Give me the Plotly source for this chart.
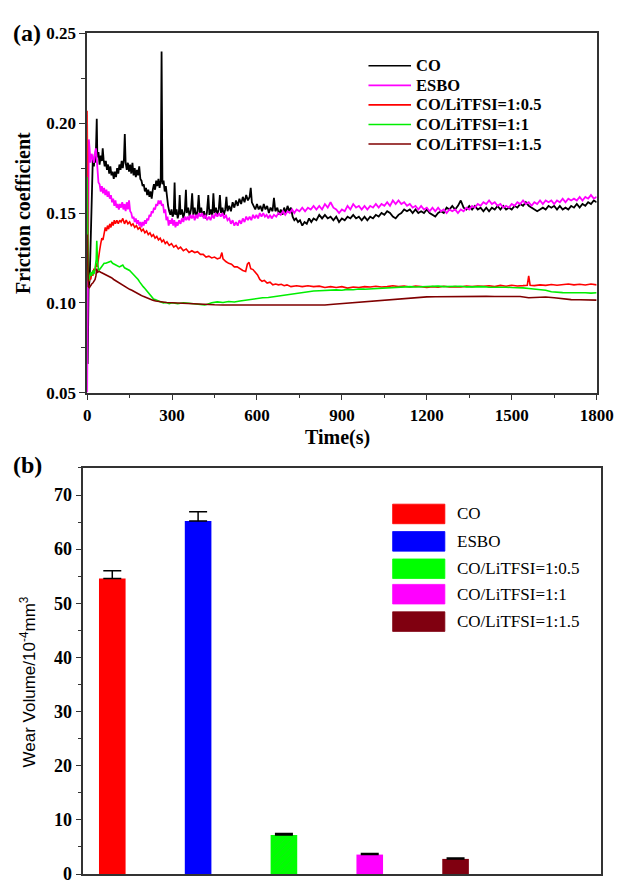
import plotly.graph_objects as go

W, H = 632, 887

# ---------------- (a) friction coefficient data ----------------
series_names = ["CO", "ESBO", "CO/LiTFSI=1:0.5", "CO/LiTFSI=1:1", "CO/LiTFSI=1:1.5"]
line_colors = ["#000000", "#ff00ff", "#ff0000", "#00ee00", "#800000"]
line_widths = [1.8, 1.8, 1.6, 1.6, 1.6]

co_t = [2,5,9,13,17,20,24,27,30,33,34,36,40,44,48,52,55,58,62,66,70,74,78,82,86,90,94,98,102,106,110,114,118,122,126,130,133,136,140,144,148,152,156,160,164,168,172,176,180,184,188,192,196,200,204,208,212,216,220,224,228,232,236,240,244,248,252,256,260,263,266,270,274,278,282,286,290,294,298,302,306,309,312,316,320,324,327,330,335,340,345,349,352,357,362,367,371,375,380,385,390,394,398,403,408,413,418,423,428,432,437,442,446,450,455,460,465,469,473,478,483,488,492,496,502,508,514,520,526,532,538,544,550,556,562,568,574,578,582,588,594,600,606,612,618,624,630,636,642,648,655,660,665,672,678,684,690,696,702,708,714,720,726,732,738,745,752,760,768,776,784,792,800,810,820,830,840,850,860,870,880,890,900,910,920,930,940,950,960,970,980,990,1000,1010,1020,1030,1040,1050,1060,1070,1080,1090,1100,1110,1120,1130,1140,1150,1160,1170,1180,1190,1200,1210,1220,1230,1240,1250,1260,1270,1280,1290,1300,1310,1320,1330,1340,1350,1360,1370,1380,1390,1400,1410,1420,1430,1440,1450,1460,1470,1480,1490,1500,1510,1520,1530,1540,1550,1560,1570,1580,1590,1600,1610,1620,1630,1640,1650,1660,1670,1680,1690,1700,1710,1720,1730,1740,1750,1760,1770,1780,1790,1800]
co_mu = [0.066,0.108,0.113,0.145,0.172,0.180,0.176,0.183,0.178,0.190,0.2025,0.181,0.184,0.177,0.182,0.179,0.186,0.180,0.176,0.179,0.174,0.177,0.172,0.176,0.171,0.173,0.169,0.173,0.170,0.175,0.172,0.177,0.174,0.179,0.175,0.180,0.194,0.178,0.174,0.178,0.173,0.177,0.172,0.178,0.171,0.175,0.170,0.174,0.171,0.176,0.169,0.168,0.165,0.166,0.162,0.164,0.160,0.163,0.159,0.162,0.158,0.163,0.166,0.163,0.168,0.165,0.169,0.164,0.168,0.240,0.166,0.168,0.162,0.165,0.157,0.154,0.151,0.149,0.152,0.148,0.150,0.167,0.149,0.152,0.147,0.150,0.160,0.149,0.152,0.147,0.151,0.163,0.150,0.153,0.148,0.152,0.161,0.149,0.153,0.148,0.151,0.160,0.150,0.153,0.148,0.151,0.147,0.150,0.160,0.149,0.152,0.148,0.161,0.150,0.153,0.149,0.152,0.160,0.150,0.153,0.149,0.152,0.159,0.151,0.154,0.151,0.156,0.153,0.157,0.154,0.158,0.155,0.159,0.156,0.160,0.157,0.159,0.164,0.156,0.154,0.152,0.155,0.152,0.154,0.151,0.155,0.152,0.154,0.150,0.153,0.151,0.1585,0.151,0.153,0.149,0.152,0.149,0.153,0.150,0.154,0.151,0.153,0.148,0.146,0.147,0.145,0.146,0.143,0.145,0.144,0.147,0.145,0.147,0.146,0.149,0.147,0.149,0.147,0.148,0.146,0.148,0.145,0.147,0.146,0.148,0.147,0.149,0.147,0.148,0.146,0.148,0.146,0.148,0.147,0.149,0.148,0.150,0.149,0.151,0.150,0.148,0.147,0.149,0.150,0.152,0.151,0.152,0.150,0.152,0.150,0.151,0.150,0.152,0.150,0.149,0.148,0.150,0.151,0.150,0.153,0.152,0.154,0.152,0.154,0.157,0.153,0.152,0.154,0.152,0.154,0.152,0.153,0.151,0.153,0.151,0.153,0.152,0.154,0.152,0.154,0.152,0.153,0.152,0.154,0.153,0.155,0.154,0.156,0.154,0.153,0.152,0.151,0.152,0.153,0.152,0.154,0.153,0.154,0.152,0.154,0.152,0.153,0.152,0.154,0.153,0.155,0.153,0.155,0.154,0.156,0.155,0.157,0.156]

esbo_t = [0,2,4,6,9,12,16,20,24,28,31,34,37,40,44,48,52,56,60,64,68,72,76,80,84,88,92,96,100,104,108,112,116,120,124,128,132,136,140,144,148,152,156,160,164,168,172,176,180,184,188,192,196,200,204,208,212,216,220,224,228,232,236,240,244,248,252,256,260,264,268,272,276,280,284,288,292,296,300,304,308,312,316,320,325,330,335,340,345,350,355,360,365,370,375,380,385,390,395,400,406,412,418,424,430,436,442,448,454,460,466,472,478,484,490,496,502,508,514,520,526,532,538,544,550,556,562,568,574,580,586,592,598,604,610,616,622,628,634,640,646,652,660,668,676,684,692,700,708,716,724,732,740,750,760,770,780,790,800,810,820,830,840,850,860,870,880,890,900,910,920,930,940,950,960,970,980,990,1000,1010,1020,1030,1040,1050,1060,1070,1080,1090,1100,1110,1120,1130,1140,1150,1160,1170,1180,1190,1200,1210,1220,1230,1240,1250,1260,1270,1280,1290,1300,1310,1320,1330,1340,1350,1360,1370,1380,1390,1400,1410,1420,1430,1440,1450,1460,1470,1480,1490,1500,1510,1520,1530,1540,1550,1560,1570,1580,1590,1600,1610,1620,1630,1640,1650,1660,1670,1680,1690,1700,1710,1720,1730,1740,1750,1760,1770,1780,1790,1800]
esbo_mu = [0.050,0.120,0.175,0.191,0.185,0.178,0.183,0.180,0.178,0.184,0.186,0.180,0.173,0.167,0.166,0.162,0.165,0.161,0.164,0.160,0.163,0.159,0.162,0.158,0.160,0.156,0.158,0.154,0.157,0.153,0.155,0.152,0.155,0.153,0.156,0.152,0.155,0.151,0.156,0.152,0.157,0.151,0.150,0.147,0.148,0.145,0.147,0.144,0.146,0.143,0.145,0.142,0.145,0.143,0.146,0.144,0.147,0.146,0.149,0.148,0.151,0.150,0.153,0.152,0.155,0.154,0.157,0.155,0.157,0.154,0.155,0.150,0.152,0.146,0.148,0.143,0.146,0.144,0.147,0.143,0.146,0.142,0.145,0.143,0.146,0.144,0.147,0.145,0.148,0.146,0.148,0.146,0.149,0.147,0.149,0.146,0.149,0.147,0.150,0.148,0.150,0.147,0.149,0.146,0.148,0.146,0.149,0.147,0.150,0.148,0.150,0.148,0.150,0.147,0.149,0.146,0.147,0.144,0.146,0.143,0.145,0.143,0.146,0.144,0.147,0.145,0.148,0.146,0.148,0.146,0.149,0.147,0.149,0.147,0.150,0.148,0.150,0.148,0.149,0.147,0.149,0.147,0.149,0.148,0.150,0.149,0.151,0.149,0.151,0.150,0.152,0.150,0.152,0.151,0.153,0.151,0.153,0.152,0.154,0.152,0.154,0.152,0.155,0.153,0.156,0.153,0.152,0.150,0.152,0.151,0.154,0.152,0.155,0.153,0.154,0.152,0.154,0.152,0.154,0.153,0.155,0.153,0.155,0.154,0.156,0.154,0.157,0.155,0.157,0.155,0.156,0.154,0.155,0.153,0.154,0.152,0.154,0.152,0.153,0.151,0.153,0.151,0.153,0.151,0.152,0.150,0.152,0.151,0.152,0.150,0.152,0.151,0.153,0.152,0.154,0.153,0.155,0.154,0.156,0.155,0.157,0.155,0.156,0.154,0.155,0.153,0.154,0.153,0.155,0.154,0.156,0.155,0.157,0.155,0.156,0.154,0.156,0.155,0.157,0.155,0.157,0.156,0.157,0.155,0.157,0.156,0.158,0.156,0.158,0.157,0.158,0.157,0.159,0.157,0.159,0.158,0.160,0.158,0.159]

r05_t = [0,2,4,7,10,13,16,20,24,28,32,36,40,44,48,52,56,60,64,68,72,76,80,84,88,92,96,100,105,110,115,120,126,132,138,144,150,156,162,168,174,180,186,192,198,204,210,216,222,228,234,240,246,252,258,264,270,276,282,290,298,306,314,322,330,340,350,360,370,380,390,400,410,420,430,440,450,460,470,476,480,490,500,510,520,530,540,550,560,566,572,578,586,594,602,610,618,626,636,646,656,666,676,686,696,706,720,740,760,780,800,820,840,860,880,900,920,940,960,980,1000,1020,1040,1060,1080,1100,1120,1140,1160,1180,1200,1220,1240,1260,1280,1300,1320,1340,1360,1380,1400,1420,1440,1460,1480,1500,1520,1540,1555,1560,1565,1580,1600,1620,1640,1660,1680,1700,1720,1740,1760,1780,1800]
r05_mu = [0.207,0.150,0.116,0.112,0.115,0.113,0.117,0.115,0.119,0.118,0.122,0.120,0.126,0.129,0.133,0.136,0.135,0.140,0.142,0.140,0.143,0.141,0.144,0.142,0.145,0.143,0.146,0.144,0.146,0.144,0.146,0.145,0.147,0.144,0.146,0.144,0.145,0.143,0.144,0.142,0.143,0.141,0.142,0.140,0.141,0.139,0.140,0.138,0.139,0.137,0.138,0.136,0.137,0.135,0.136,0.134,0.135,0.133,0.134,0.132,0.133,0.131,0.132,0.130,0.131,0.129,0.130,0.128,0.129,0.128,0.1285,0.127,0.127,0.1255,0.126,0.125,0.1255,0.1245,0.125,0.128,0.1245,0.123,0.122,0.1215,0.120,0.120,0.119,0.118,0.1175,0.1215,0.1225,0.119,0.1185,0.117,0.1155,0.113,0.112,0.1125,0.111,0.1115,0.110,0.1105,0.110,0.1103,0.1095,0.110,0.109,0.1095,0.109,0.1095,0.109,0.1093,0.1085,0.109,0.1085,0.109,0.1082,0.1088,0.1085,0.109,0.1088,0.1092,0.1088,0.109,0.1095,0.109,0.1093,0.1088,0.1093,0.109,0.1085,0.109,0.1087,0.1092,0.1088,0.109,0.1088,0.1093,0.109,0.1094,0.1092,0.1095,0.109,0.1097,0.1092,0.1098,0.1094,0.1096,0.1098,0.115,0.1098,0.1096,0.110,0.1097,0.1102,0.1098,0.110,0.1105,0.110,0.1103,0.1099,0.1105,0.110]

r10_t = [0,2,4,8,12,16,20,24,28,32,34,37,41,46,50,55,60,66,72,78,84,90,96,102,108,114,120,126,132,138,144,150,156,162,168,174,180,186,192,198,204,210,216,222,228,234,240,250,260,270,280,290,300,320,340,360,380,400,415,425,440,460,480,500,520,540,560,580,600,620,640,660,680,700,720,740,760,780,800,820,840,860,880,900,920,940,960,980,1000,1020,1040,1060,1080,1100,1120,1140,1160,1180,1200,1220,1240,1260,1280,1300,1320,1340,1360,1380,1400,1420,1440,1460,1480,1500,1520,1540,1560,1580,1600,1620,1640,1660,1680,1700,1720,1740,1760,1780,1800]
r10_mu = [0.170,0.130,0.112,0.114,0.117,0.115,0.118,0.116,0.119,0.124,0.1345,0.122,0.118,0.119,0.120,0.121,0.122,0.122,0.1225,0.123,0.1232,0.122,0.1215,0.121,0.1205,0.120,0.1205,0.121,0.1195,0.119,0.1185,0.118,0.117,0.116,0.1152,0.1145,0.113,0.1115,0.110,0.109,0.108,0.1068,0.1058,0.1045,0.103,0.1022,0.1018,0.101,0.1005,0.100,0.1002,0.0995,0.100,0.0995,0.100,0.0998,0.0995,0.0993,0.0988,0.0992,0.100,0.1005,0.1002,0.1007,0.1005,0.101,0.1015,0.102,0.1022,0.1028,0.103,0.1035,0.104,0.1042,0.1046,0.1052,0.106,0.1064,0.1066,0.1067,0.1069,0.107,0.1072,0.107,0.1075,0.1073,0.1077,0.1076,0.1078,0.108,0.1082,0.1084,0.1087,0.1088,0.1089,0.109,0.1088,0.109,0.1092,0.109,0.1093,0.109,0.1092,0.109,0.1092,0.1089,0.109,0.1088,0.109,0.1087,0.1088,0.1086,0.1087,0.1085,0.1086,0.1083,0.108,0.1078,0.1075,0.107,0.1062,0.1058,0.1057,0.1056,0.1057,0.1055,0.1056,0.1054,0.1056]

r15_t = [0,2,4,8,12,16,20,24,28,31,34,37,42,48,55,62,70,78,86,94,102,110,118,126,134,142,150,158,166,174,182,190,198,206,214,222,232,242,252,264,280,300,320,340,360,380,400,420,450,480,520,560,600,640,680,720,760,800,840,870,900,930,960,990,1020,1050,1080,1110,1140,1170,1200,1230,1260,1290,1320,1350,1380,1410,1440,1470,1500,1530,1560,1590,1620,1650,1680,1710,1740,1770,1800]
r15_mu = [0.138,0.120,0.109,0.1085,0.110,0.1105,0.111,0.112,0.113,0.115,0.119,0.117,0.1175,0.117,0.1165,0.116,0.1155,0.1148,0.114,0.113,0.1122,0.1115,0.1105,0.1098,0.109,0.1082,0.1075,0.107,0.1062,0.1055,0.105,0.1042,0.1036,0.103,0.1025,0.102,0.1015,0.101,0.1007,0.1004,0.1002,0.100,0.0998,0.0997,0.0995,0.0995,0.0993,0.099,0.0989,0.0988,0.0988,0.0987,0.0988,0.0987,0.0988,0.0987,0.0986,0.0987,0.0988,0.0992,0.0996,0.100,0.1004,0.1008,0.1012,0.1016,0.102,0.1024,0.1028,0.103,0.1033,0.1034,0.1035,0.1035,0.1034,0.1035,0.1035,0.1036,0.1035,0.1035,0.1036,0.1035,0.1028,0.1032,0.1032,0.1028,0.1022,0.1018,0.1017,0.1016,0.1015]

time_ticks = [0, 300, 600, 900, 1200, 1500, 1800]
mu_ticks = [0.05, 0.10, 0.15, 0.20, 0.25]

# ---------------- (b) wear volume data ----------------
wear_names = ["CO", "ESBO", "CO/LiTFSI=1:0.5", "CO/LiTFSI=1:1", "CO/LiTFSI=1:1.5"]
wear_values = [54.6, 65.2, 7.2, 3.6, 2.8]
wear_errors = [1.4, 1.7, 0.3, 0.2, 0.15]
wear_colors = ["#ff0000", "#0000ff", "#00ff00", "#ff00ff", "#800010"]
wear_ticks = [0, 10, 20, 30, 40, 50, 60, 70]

SERIF = "Liberation Serif"
SANS = "Liberation Sans"

def px(x):
    return x / W

def py(y):
    return 1 - y / H

fig = go.Figure()

all_t = [co_t, esbo_t, r05_t, r10_t, r15_t]
all_mu = [co_mu, esbo_mu, r05_mu, r10_mu, r15_mu]
for name, c, lw, t, m in zip(series_names, line_colors, line_widths, all_t, all_mu):
    fig.add_trace(go.Scatter(x=t, y=m, mode="lines", name=name,
                             line=dict(color=c, width=lw),
                             xaxis="x", yaxis="y", showlegend=False))

for i, (name, v, e, c) in enumerate(zip(wear_names, wear_values, wear_errors, wear_colors)):
    marker = dict(color=c, line=dict(width=0))
    if i == 2:
        marker["pattern"] = dict(shape="/", fgcolor="#30c830", bgcolor="#00ff00", size=5, solidity=0.15)
    fig.add_trace(go.Bar(x=[i], y=[v], name=name, marker=marker, width=0.31,
                         error_y=dict(type="data", array=[e], symmetric=False, arrayminus=[0],
                                      color="#000000", thickness=1.5, width=9),
                         xaxis="x2", yaxis="y2", showlegend=False))

axis_line = dict(showline=True, linecolor="#333333", linewidth=1.5, mirror=True,
                 showgrid=False, zeroline=False, ticks="outside", tickcolor="#333333",
                 tickwidth=1.3)

fig.update_layout(
    width=W, height=H,
    margin=dict(l=0, r=0, t=0, b=0),
    paper_bgcolor="white", plot_bgcolor="white",
    showlegend=False,
    xaxis=dict(domain=[px(86), px(613)], range=[0, 1800], tickvals=time_ticks,
               ticklen=6, minor=dict(dtick=150, tick0=0, ticks="outside", ticklen=4, tickcolor="#333333"),
               tickfont=dict(family=SERIF, size=17, color="black", weight="bold"),
               anchor="y", **axis_line),
    yaxis=dict(domain=[py(392), py(25)], range=[0.05, 0.25], tickvals=mu_ticks,
               tickformat=".2f", ticklen=6,
               minor=dict(dtick=0.025, tick0=0.05, ticks="outside", ticklen=4, tickcolor="#333333"),
               tickfont=dict(family=SERIF, size=17, color="black", weight="bold"),
               anchor="x", **axis_line),
    xaxis2=dict(domain=[px(82), px(618)], range=[-0.338, 5.70], showticklabels=False,
                anchor="y2", showline=True, linecolor="#333333", linewidth=1.5, mirror=True,
                showgrid=False, zeroline=False, ticks=""),
    yaxis2=dict(domain=[py(884), py(469)], range=[0, 75], tickvals=wear_ticks, ticklen=6,
                minor=dict(dtick=5, tick0=0, ticks="outside", ticklen=4, tickcolor="#333333"),
                tickfont=dict(family=SERIF, size=18, color="black", weight="bold"),
                anchor="x2", **axis_line),
)

# Legend for (a): line keys + bold serif labels
legend_a_rows = [58, 78, 98, 118, 138]
for name, c, yc in zip(series_names, line_colors, legend_a_rows):
    fig.add_shape(type="line", xref="paper", yref="paper",
                  x0=px(377), x1=px(421), y0=py(yc), y1=py(yc),
                  line=dict(color=c, width=1.6))
    fig.add_annotation(x=px(425), y=py(yc), xref="paper", yref="paper", text=name,
                       showarrow=False, xanchor="left", yanchor="middle", borderpad=0,
                       font=dict(family=SERIF, size=16.5, color="black", weight="bold"))

# Legend for (b): colour swatches + serif labels
legend_b_rows = [516, 544, 572, 598, 626]
for name, c, yc in zip(wear_names, wear_colors, legend_b_rows):
    fig.add_shape(type="rect", xref="paper", yref="paper",
                  x0=px(402), x1=px(456), y0=py(yc + 10), y1=py(yc - 10),
                  fillcolor=c, line=dict(color=c, width=0.8), layer="above")
    fig.add_annotation(x=px(468), y=py(yc), xref="paper", yref="paper", text=name,
                       showarrow=False, xanchor="left", yanchor="middle", borderpad=0,
                       font=dict(family=SERIF, size=17, color="black"))

ann_font_b = dict(family=SERIF, color="black", weight="bold")
fig.add_annotation(x=px(7), y=py(25), xref="paper", yref="paper", text="(a)", showarrow=False,
                   xanchor="left", yanchor="middle", font=dict(size=24, **ann_font_b))
fig.add_annotation(x=px(7), y=py(466), xref="paper", yref="paper", text="(b)", showarrow=False,
                   xanchor="left", yanchor="middle", font=dict(size=24, **ann_font_b))
fig.add_annotation(x=px(19), y=py(208), xref="paper", yref="paper", text="Friction coefficient",
                   showarrow=False, textangle=-90, xanchor="center", yanchor="middle",
                   font=dict(size=20, **ann_font_b))
fig.add_annotation(x=px(345), y=py(438), xref="paper", yref="paper", text="Time(s)",
                   showarrow=False, xanchor="center", yanchor="middle", borderpad=0,
                   font=dict(size=20, **ann_font_b))
fig.add_annotation(x=px(25), y=py(688), xref="paper", yref="paper",
                   text="Wear Volume/10<sup>-4</sup>mm<sup>3</sup>",
                   showarrow=False, textangle=-90, xanchor="center", yanchor="middle",
                   font=dict(family=SANS, size=17, color="black"))

fig.write_html("out.html")
